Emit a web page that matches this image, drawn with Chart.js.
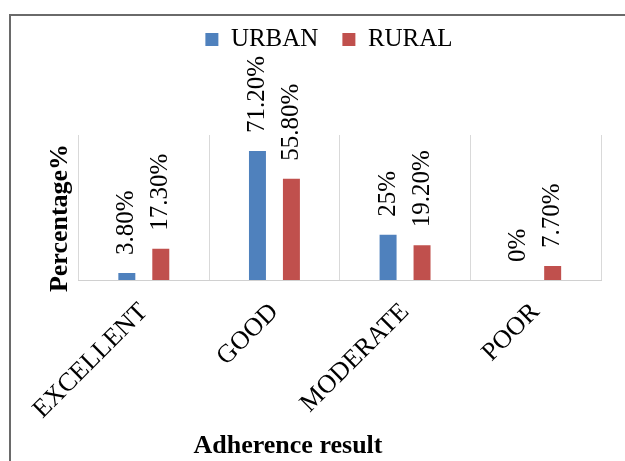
<!DOCTYPE html>
<html lang="en">
<head>
  <meta charset="UTF-8">
  <title>Adherence result - urban vs rural</title>
  <script src="https://cdn.jsdelivr.net/npm/chart.js"></script>
  <style>
    html, body { margin: 0; padding: 0; background: #fff; }
  </style>
</head>
<body>
  <canvas id="myChart" width="625" height="461"></canvas>
  <script>
    // values
    const categories = ['EXCELLENT', 'GOOD', 'MODERATE', 'POOR'];
    const urban = [3.8, 71.2, 25, 0];
    const rural = [17.3, 55.8, 19.2, 7.7];
    const urbanLabels = ['3.80%', '71.20%', '25%', '0%'];
    const ruralLabels = ['17.30%', '55.80%', '19.20%', '7.70%'];
    const yMin = 0;
    const yMax = 80;

    const serif = '"Liberation Serif", "Times New Roman", serif';

    // frame, value labels and axis titles
    const extras = {
      id: 'extras',
      beforeDraw(chart) {
        const c = chart.ctx;
        c.save();
        c.strokeStyle = '#6a6a6a';
        c.lineWidth = 2;
        c.strokeRect(10, 15, 700, 600);
        c.restore();
      },
      afterDatasetsDraw(chart) {
        const c = chart.ctx;
        c.save();
        c.fillStyle = '#000';
        c.font = '25px ' + serif;
        c.textAlign = 'left';
        c.textBaseline = 'middle';
        [urbanLabels, ruralLabels].forEach((labels, i) => {
          chart.getDatasetMeta(i).data.forEach((bar, j) => {
            c.save();
            c.translate(bar.x, bar.y - 18);
            c.rotate(-Math.PI / 2);
            c.fillText(labels[j], 0, 0);
            c.restore();
          });
        });

        c.font = 'bold 26px ' + serif;
        c.textAlign = 'center';
        c.textBaseline = 'alphabetic';
        c.fillText('Adherence result', 288, 453);

        c.translate(67, 218);
        c.rotate(-Math.PI / 2);
        c.fillText('Percentage%', 0, 0);
        c.restore();
      }
    };

    const ctx = document.getElementById('myChart').getContext('2d');
    const myChart = new Chart(ctx, {
      type: 'bar',
      data: {
        labels: categories,
        datasets: [{
          label: 'URBAN',
          data: urban,
          backgroundColor: '#4f81bd',
          borderWidth: 0,
          xAxisID: 'x',
          yAxisID: 'y'
        }, {
          label: 'RURAL',
          data: rural,
          backgroundColor: '#c0504d',
          borderWidth: 0,
          xAxisID: 'x',
          yAxisID: 'y'
        }]
      },
      options: {
        responsive: false,
        animation: false,
        categoryPercentage: 0.52,
        barPercentage: 0.5,
        layout: { padding: { top: 3, left: 57, right: 24, bottom: 0 } },
        plugins: {
          legend: {
            position: 'top',
            labels: {
              boxWidth: 13,
              boxHeight: 13,
              padding: 24,
              color: '#000',
              font: { family: serif, size: 25 }
            }
          },
          tooltip: { enabled: false }
        },
        scales: {
          x: {
            position: 'bottom',
            grid: { display: true, offset: true, color: '#d9d9d9', drawTicks: false },
            border: { display: true, color: '#d0d0d0' },
            ticks: {
              color: '#000',
              font: { family: serif, size: 26 },
              minRotation: 45,
              maxRotation: 45,
              padding: 17
            },
            afterFit(s) { s.height = 181; }
          },
          xTop: {
            type: 'category',
            position: 'top',
            labels: categories,
            grid: { display: false },
            border: { display: false },
            ticks: { display: false },
            afterFit(s) { s.height = 73; }
          },
          y: {
            min: yMin,
            max: yMax,
            grid: { display: false },
            border: { display: false },
            ticks: { display: false },
            afterFit(s) { s.width = 21.5; }
          }
        }
      },
      plugins: [extras]
    });
  </script>
</body>
</html>
